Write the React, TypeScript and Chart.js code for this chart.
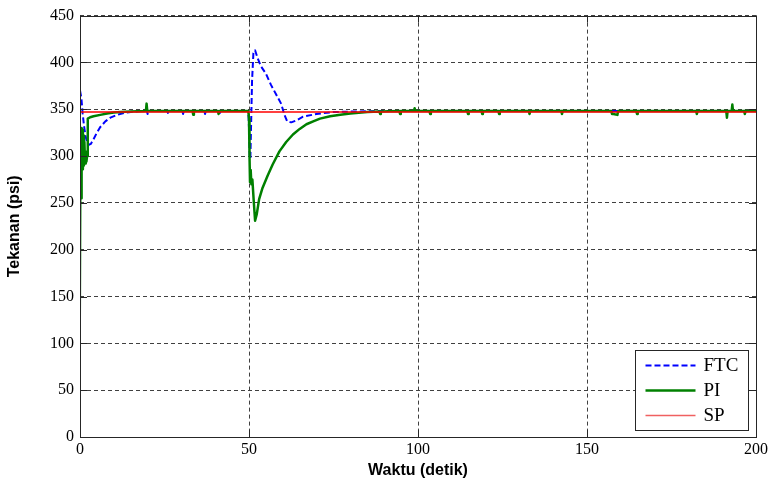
import { useEffect, useRef } from "react";
import { Chart, registerables } from "chart.js";

Chart.register(...registerables);

const xTicks = [0, 50, 100, 150, 200];
const yTicks = [0, 50, 100, 150, 200, 250, 300, 350, 400, 450];
const seriesLabels = ["FTC", "PI", "SP"];

const ftcTime = [
  0, 0.4, 0.8, 1.2, 1.6, 2.0, 2.6, 3.2, 4.0, 5.0, 6.0, 7.5, 9.0, 11, 13, 15, 18,
  19.8, 20.0, 20.2, 25.8, 26.0, 26.2, 30.3, 30.5, 30.7, 36.8, 37.0, 37.2, 41.2, 41.4, 41.6,
  49.8, 50.0, 50.2, 50.4, 50.6, 50.9, 51.3, 51.8, 52.5, 53.5, 55.0, 56.5, 58.0, 59.5,
  60.5, 61.3, 62.5, 64, 66, 70, 75, 80, 90, 100, 200,
];
const ftcValue = [
  370, 362, 345, 332, 322, 316, 312, 313, 318, 325, 331, 337, 341, 344, 346, 347, 348,
  348, 345, 348, 348, 346, 348, 348, 345, 348, 348, 345, 348, 348, 346, 348,
  348, 330, 300, 297, 330, 380, 410, 413, 405, 396, 388, 376, 366, 356,
  344, 337, 336, 338, 342, 345, 347, 347.5, 348, 348, 348,
];

const piTime = [
  0, 0.3, 0.4, 0.55, 0.7, 0.85, 1.0, 1.15, 1.3, 1.5, 1.7, 1.9, 2.1, 2.3, 3, 4, 6, 8, 10, 12, 15,
  19.5, 19.7, 19.9, 33.3, 33.5, 33.7, 40.8, 41.0, 41.2,
  49.8, 50.0, 50.15, 50.3, 50.5, 50.7, 51.0, 51.4, 51.8, 52.3, 53, 54, 55.5, 57, 59, 61, 63, 65,
  67, 69, 71, 74, 77, 80, 85,
  88.6, 88.8, 89.0, 94.5, 94.7, 94.9, 98.8, 99.0, 99.2, 103.4, 103.6, 103.8,
  114.6, 114.8, 115.0, 118.8, 119.0, 119.2, 123.8, 124.0, 124.2, 132.8, 133.0, 133.2,
  142.4, 142.6, 142.8, 157.2, 157.4, 157.8, 159.0, 159.2, 164.6, 164.8, 165.0,
  182.3, 182.5, 182.7, 191.2, 191.4, 191.6, 192.8, 193.0, 193.2, 196.5, 196.7, 196.9, 200,
];
const piValue = [
  0, 255, 330, 290, 328, 286, 322, 290, 315, 292, 305, 294, 300, 340, 341.5, 342.5, 344, 345.5, 346.5, 347, 347.5,
  348, 356, 348, 348, 344, 348, 348, 345, 348,
  348, 340, 300, 272, 285, 270, 275, 252, 231, 238, 254, 266, 279, 291, 305, 315, 323, 329,
  334, 337, 340, 342.5, 344, 345.5, 347,
  347.5, 345, 347.5, 348, 345, 348, 348, 351, 348, 348, 345, 348,
  348, 345, 348, 348, 345, 348, 348, 345, 348, 348, 345, 348,
  348, 345, 348, 348, 345, 345, 344, 348, 348, 345, 348,
  348, 345, 348, 348, 341, 348, 348, 355, 348, 348, 345, 348, 348,
];

const spTime = [0, 200];
const spValue = [347, 347];

const toPoints = (t: number[], v: number[]) => t.map((x, i) => ({ x, y: v[i] }));

const framePlugin = {
  id: "frameAndLegend",
  afterDraw(chart: any) {
    const { ctx, chartArea: a, scales } = chart;
    ctx.save();
    ctx.setLineDash([]);
    ctx.strokeStyle = "#262626";
    ctx.lineWidth = 1;
    const tl = 7;
    ctx.beginPath();
    for (const v of xTicks) {
      const px = Math.round(scales.x.getPixelForValue(v)) + 0.5;
      ctx.moveTo(px, a.bottom);
      ctx.lineTo(px, a.bottom - tl);
      ctx.moveTo(px, a.top);
      ctx.lineTo(px, a.top + tl);
    }
    for (const v of yTicks) {
      const py = Math.round(scales.y.getPixelForValue(v)) + 0.5;
      ctx.moveTo(a.left, py);
      ctx.lineTo(a.left + tl, py);
      ctx.moveTo(a.right, py);
      ctx.lineTo(a.right - tl, py);
    }
    ctx.stroke();
    ctx.strokeRect(
      Math.round(a.left) + 0.5,
      Math.round(a.top) + 0.5,
      Math.round(a.right - a.left),
      Math.round(a.bottom - a.top)
    );

    // legend box
    const bx = Math.round(a.right - 121) + 0.5;
    const by = Math.round(a.bottom - 87) + 0.5;
    const bw = 113;
    const bh = 80;
    ctx.fillStyle = "#ffffff";
    ctx.fillRect(bx, by, bw, bh);
    ctx.strokeStyle = "#262626";
    ctx.lineWidth = 1;
    ctx.strokeRect(bx, by, bw, bh);
    const offs = [15, 40, 65];
    chart.data.datasets.forEach((ds: any, i: number) => {
      const y = by + offs[i];
      ctx.save();
      ctx.strokeStyle = ds.label === "SP" ? "#f06060" : ds.borderColor;
      ctx.lineWidth = ds.label === "SP" ? 1.5 : ds.borderWidth;
      ctx.setLineDash(ds.borderDash || []);
      ctx.beginPath();
      ctx.moveTo(bx + 10, y);
      ctx.lineTo(bx + 60, y);
      ctx.stroke();
      ctx.restore();
      ctx.fillStyle = "#000";
      ctx.font = "19px 'Liberation Serif'";
      ctx.textBaseline = "middle";
      ctx.textAlign = "left";
      ctx.fillText(ds.label, bx + 68, y + 1);
    });
    ctx.restore();
  },
};

export default function App() {
  const ref = useRef<HTMLCanvasElement>(null);
  useEffect(() => {
    if (!ref.current) return;
    const chart = new Chart(ref.current, {
      type: "line",
      data: {
        datasets: [
          {
            label: seriesLabels[0],
            data: toPoints(ftcTime, ftcValue),
            borderColor: "#0000ff",
            borderWidth: 2,
            borderDash: [6, 3],
            borderJoinStyle: "round",
            pointRadius: 0,
            tension: 0,
            order: 2,
          },
          {
            label: seriesLabels[1],
            data: toPoints(piTime, piValue),
            borderColor: "#008000",
            borderWidth: 2.5,
            borderJoinStyle: "round",
            pointRadius: 0,
            tension: 0,
            order: 1,
            segment: {
              borderWidth: (c: any) => (c.p0DataIndex === 0 ? 1 : 2.5),
            },
          } as any,
          {
            label: seriesLabels[2],
            data: toPoints(spTime, spValue),
            borderColor: "#ff0000",
            borderWidth: 1.5,
            pointRadius: 0,
            tension: 0,
            order: 0,
          },
        ],
      },
      options: {
        animation: false,
        responsive: false,
        devicePixelRatio: 1,
        layout: { padding: { left: 0, top: 15, right: 19, bottom: 0 } },
        plugins: { legend: { display: false }, tooltip: { enabled: false } },
        scales: {
          x: {
            type: "linear",
            min: 0,
            max: 200,
            afterFit: (s: any) => {
              s.height = 46;
            },
            afterBuildTicks: (s: any) => {
              s.ticks = xTicks.map((v) => ({ value: v }));
            },
            ticks: {
              font: { family: "'Liberation Serif'", size: 16 },
              color: "#000",
              padding: 3,
              maxRotation: 0,
            },
            grid: { color: "#404040", lineWidth: 1, drawTicks: false },
            border: { display: false, dash: [4, 3] },
            title: {
              display: true,
              text: "Waktu (detik)",
              font: { family: "'Liberation Sans'", size: 16, weight: "bold" },
              color: "#000",
              padding: { top: 0, bottom: 3 },
            },
          },
          y: {
            type: "linear",
            min: 0,
            max: 450,
            afterFit: (s: any) => {
              s.width = 80;
            },
            afterBuildTicks: (s: any) => {
              s.ticks = yTicks.map((v) => ({ value: v }));
            },
            ticks: {
              font: { family: "'Liberation Serif'", size: 16 },
              color: "#000",
              padding: 6,
            },
            grid: { color: "#404040", lineWidth: 1, drawTicks: false },
            border: { display: false, dash: [4, 3] },
            title: {
              display: true,
              text: "Tekanan (psi)",
              font: { family: "'Liberation Sans'", size: 16, weight: "bold" },
              color: "#000",
              padding: { top: 5, bottom: 0 },
            },
          },
        },
      } as any,
      plugins: [framePlugin],
    });
    return () => chart.destroy();
  }, []);
  return (
    <div style={{ position: "fixed", left: 0, top: 0, width: 775, height: 483, background: "#fff" }}>
      <canvas ref={ref} width={775} height={483} />
    </div>
  );
}
